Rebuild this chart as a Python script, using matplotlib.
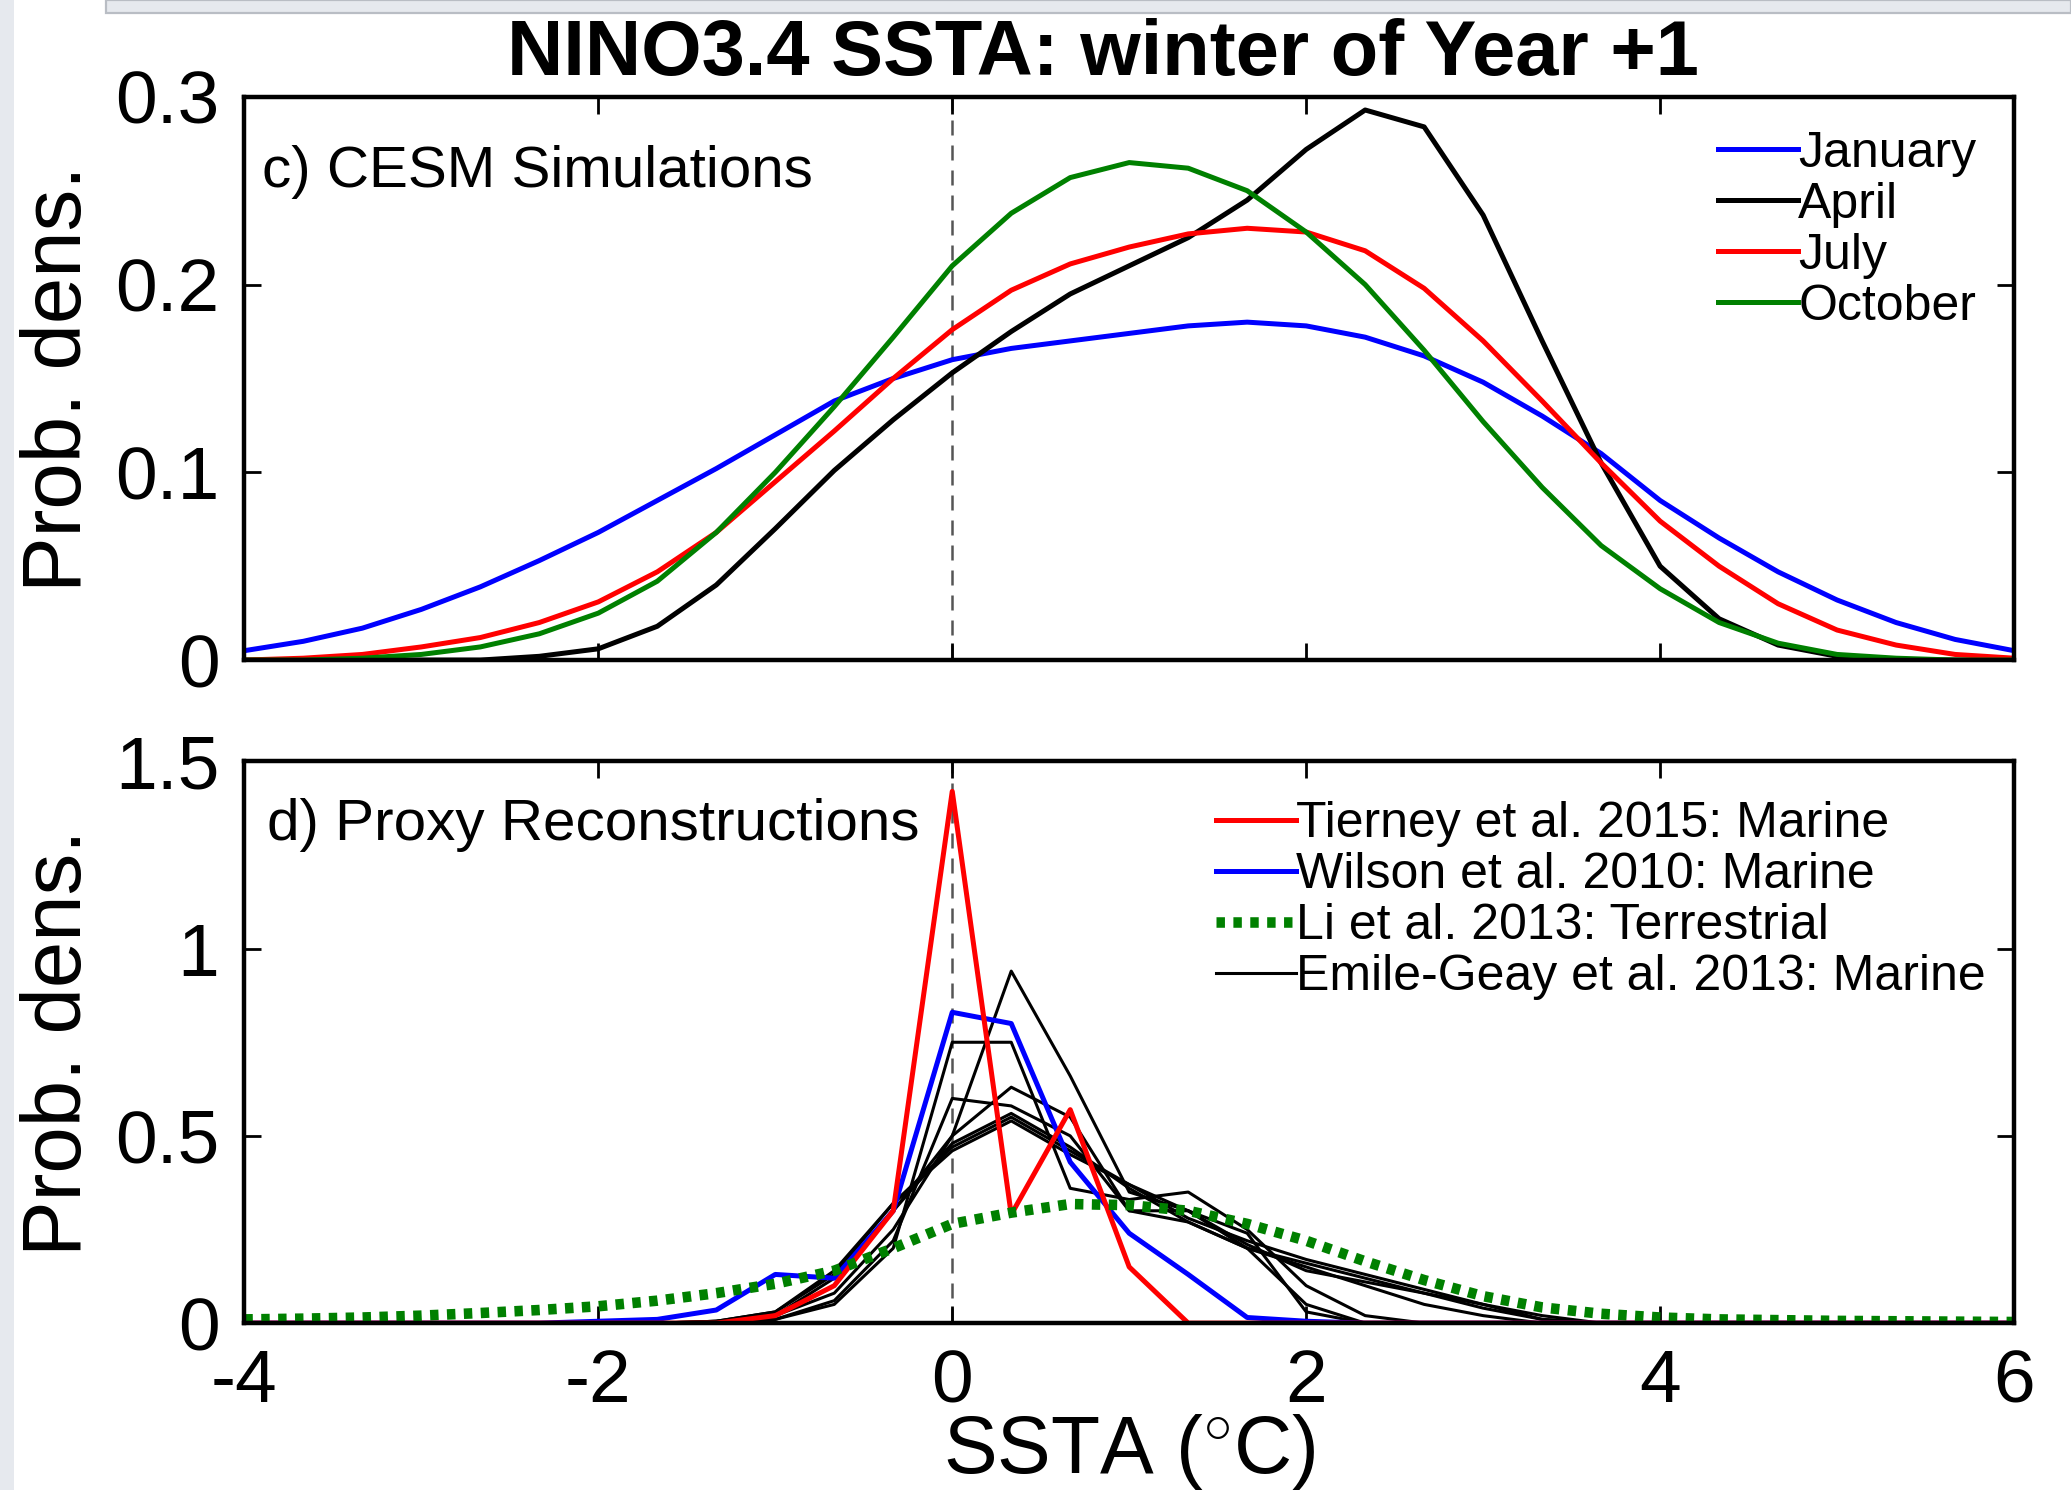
import numpy as np
import matplotlib.pyplot as plt
from matplotlib.patches import Rectangle

plt.rcParams['font.family'] = ['Liberation Sans', 'DejaVu Sans']
plt.rcParams['mathtext.fontset'] = 'custom'
plt.rcParams['mathtext.rm'] = 'Liberation Sans'

# SSTA grid (deg C), 1/3 degree spacing
sst = np.linspace(-4, 6, 31)

# c) CESM simulations, prob. density by start month
jan = [0.005, 0.010, 0.017, 0.027, 0.039, 0.053, 0.068, 0.085, 0.102, 0.120, 0.138,
       0.150, 0.160, 0.166, 0.170, 0.174, 0.178, 0.180, 0.178, 0.172, 0.162, 0.148,
       0.130, 0.110, 0.085, 0.065, 0.047, 0.032, 0.020, 0.011, 0.005]
apr = [0.0, 0.0, 0.0, 0.0, 0.0, 0.002, 0.006, 0.018, 0.040, 0.070, 0.101,
       0.128, 0.153, 0.175, 0.195, 0.210, 0.225, 0.245, 0.272, 0.293, 0.284, 0.237,
       0.170, 0.105, 0.050, 0.022, 0.008, 0.002, 0.0, 0.0, 0.0]
jul = [0.0, 0.001, 0.003, 0.007, 0.012, 0.020, 0.031, 0.047, 0.068, 0.095, 0.122,
       0.150, 0.176, 0.197, 0.211, 0.220, 0.227, 0.230, 0.228, 0.218, 0.198, 0.170,
       0.138, 0.105, 0.074, 0.050, 0.030, 0.016, 0.008, 0.003, 0.001]
octo = [0.0, 0.0, 0.001, 0.003, 0.007, 0.014, 0.025, 0.042, 0.068, 0.100, 0.135,
        0.172, 0.210, 0.238, 0.257, 0.265, 0.262, 0.250, 0.228, 0.200, 0.165, 0.127,
        0.092, 0.061, 0.038, 0.020, 0.009, 0.003, 0.001, 0.0, 0.0]

# d) proxy reconstructions
tierney = [0.0, 0.0, 0.0, 0.0, 0.0, 0.0, 0.0, 0.0, 0.0, 0.02, 0.10,
           0.30, 1.42, 0.29, 0.57, 0.15, 0.0, 0.0, 0.0, 0.0, 0.0, 0.0,
           0.0, 0.0, 0.0, 0.0, 0.0, 0.0, 0.0, 0.0, 0.0]
wilson = [0.0, 0.0, 0.0, 0.0, 0.0, 0.0, 0.005, 0.01, 0.035, 0.13, 0.12,
          0.30, 0.83, 0.80, 0.43, 0.24, 0.13, 0.015, 0.005, 0.0, 0.0, 0.0,
          0.0, 0.0, 0.0, 0.0, 0.0, 0.0, 0.0, 0.0, 0.0]
li = [0.010, 0.012, 0.015, 0.020, 0.027, 0.035, 0.045, 0.060, 0.080, 0.105, 0.140,
      0.200, 0.265, 0.295, 0.318, 0.315, 0.300, 0.265, 0.220, 0.165, 0.115, 0.072,
      0.042, 0.025, 0.015, 0.010, 0.008, 0.006, 0.005, 0.004, 0.003]
emile = [
    [0, 0, 0, 0, 0, 0, 0, 0, 0.0, 0.02, 0.10, 0.30, 0.50, 0.94, 0.66, 0.35,
     0.30, 0.20, 0.05, 0.0, 0, 0, 0, 0, 0, 0, 0, 0, 0, 0, 0],
    [0, 0, 0, 0, 0, 0, 0, 0, 0.0, 0.01, 0.05, 0.20, 0.75, 0.75, 0.36, 0.33,
     0.35, 0.25, 0.10, 0.02, 0.0, 0, 0, 0, 0, 0, 0, 0, 0, 0, 0],
    [0, 0, 0, 0, 0, 0, 0, 0, 0.0, 0.02, 0.08, 0.25, 0.50, 0.63, 0.55, 0.30,
     0.27, 0.20, 0.15, 0.10, 0.05, 0.02, 0.0, 0, 0, 0, 0, 0, 0, 0, 0],
    [0, 0, 0, 0, 0, 0, 0, 0, 0.005, 0.02, 0.12, 0.30, 0.48, 0.56, 0.47, 0.36,
     0.27, 0.20, 0.16, 0.12, 0.08, 0.04, 0.01, 0, 0, 0, 0, 0, 0, 0, 0],
    [0, 0, 0, 0, 0, 0, 0, 0, 0.005, 0.03, 0.13, 0.32, 0.47, 0.55, 0.46, 0.37,
     0.28, 0.22, 0.17, 0.13, 0.09, 0.05, 0.01, 0, 0, 0, 0, 0, 0, 0, 0],
    [0, 0, 0, 0, 0, 0, 0, 0, 0.0, 0.01, 0.06, 0.22, 0.60, 0.58, 0.50, 0.30,
     0.30, 0.24, 0.03, 0.0, 0, 0, 0, 0, 0, 0, 0, 0, 0, 0, 0],
    [0, 0, 0, 0, 0, 0, 0, 0, 0.005, 0.03, 0.14, 0.32, 0.46, 0.54, 0.45, 0.37,
     0.30, 0.21, 0.14, 0.11, 0.08, 0.05, 0.02, 0.0, 0, 0, 0, 0, 0, 0, 0],
]

fig = plt.figure(figsize=(10.355, 7.45), dpi=200)

# screenshot frame
fig.patches.append(Rectangle((0, 0), 0.0068, 1, transform=fig.transFigure,
                             facecolor='#e6e9ee', edgecolor='none', zorder=0))
fig.patches.append(Rectangle((0.051, 0.9913), 0.949, 0.0087, transform=fig.transFigure,
                             facecolor='#e6e9ee', edgecolor='#b9bdc4', lw=0.8, zorder=0))

ax1 = fig.add_axes([0.118, 0.557, 0.8545, 0.378])
ax2 = fig.add_axes([0.118, 0.112, 0.8545, 0.377])

for ax in (ax1, ax2):
    ax.axvline(0, color='#555555', lw=0.9, ls=(0, (6, 4)), zorder=1)
    ax.set_xlim(-4, 6)
    ax.set_xticks([-4, -2, 0, 2, 4, 6])
    ax.tick_params(direction='in', length=6, width=1.0, top=True, right=True,
                   labelsize=27)
    ax.tick_params(axis='y', pad=9)
    ax.tick_params(axis='x', pad=9)
    for s in ax.spines.values():
        s.set_linewidth(1.6)
    ax.set_ylabel('Prob. dens.', fontsize=30, labelpad=6)

# top panel
ax1.plot(sst, jan, color='#0000ff', lw=1.8, label='January')
ax1.plot(sst, apr, color='black', lw=1.8, label='April')
ax1.plot(sst, jul, color='#ff0000', lw=1.8, label='July')
ax1.plot(sst, octo, color='#008000', lw=1.8, label='October')
ax1.set_ylim(0, 0.3)
ax1.set_yticks([0, 0.1, 0.2, 0.3])
ax1.set_yticklabels(['0', '0.1', '0.2', '0.3'])
ax1.set_xticklabels([])
ax1.text(0.01, 0.866, 'c) CESM Simulations', transform=ax1.transAxes,
         fontsize=21, va='center', ha='left')
ax1.legend(loc='upper right', bbox_to_anchor=(0.99, 0.975), frameon=False,
           fontsize=18, handlelength=1.6, handletextpad=0.0, labelspacing=0.1,
           borderaxespad=0)
ax1.set_title('NINO3.4 SSTA: winter of Year +1', fontsize=28, fontweight='bold',
              pad=8, x=0.485)

# bottom panel
for k, e in enumerate(emile):
    h, = ax2.plot(sst, e, color='black', lw=1.1)
    if k == 0:
        hs_e = h
hw, = ax2.plot(sst, wilson, color='#0000ff', lw=1.8)
ht, = ax2.plot(sst, tierney, color='#ff0000', lw=1.8)
hl, = ax2.plot(sst, li, color='#008000', lw=3.8, ls=(0, (0.8, 0.8)))
ax2.set_ylim(0, 1.5)
ax2.set_yticks([0, 0.5, 1, 1.5])
ax2.set_yticklabels(['0', '0.5', '1', '1.5'])
ax2.set_xticklabels(['-4', '-2', '0', '2', '4', '6'])
ax2.set_xlabel('SSTA ($^{\\circ}$C)', fontsize=29, labelpad=-2)
ax2.text(0.013, 0.887, 'd) Proxy Reconstructions', transform=ax2.transAxes,
         fontsize=21, va='center', ha='left')
ax2.legend([ht, hw, hl, hs_e],
           ['Tierney et al. 2015: Marine', 'Wilson et al. 2010: Marine',
            'Li et al. 2013: Terrestrial', 'Emile-Geay et al. 2013: Marine'],
           loc='upper right', bbox_to_anchor=(0.995, 0.965), frameon=False,
           fontsize=18, handlelength=1.6, handletextpad=0.0, labelspacing=0.1,
           borderaxespad=0)

fig.savefig('out.png', dpi=200)
